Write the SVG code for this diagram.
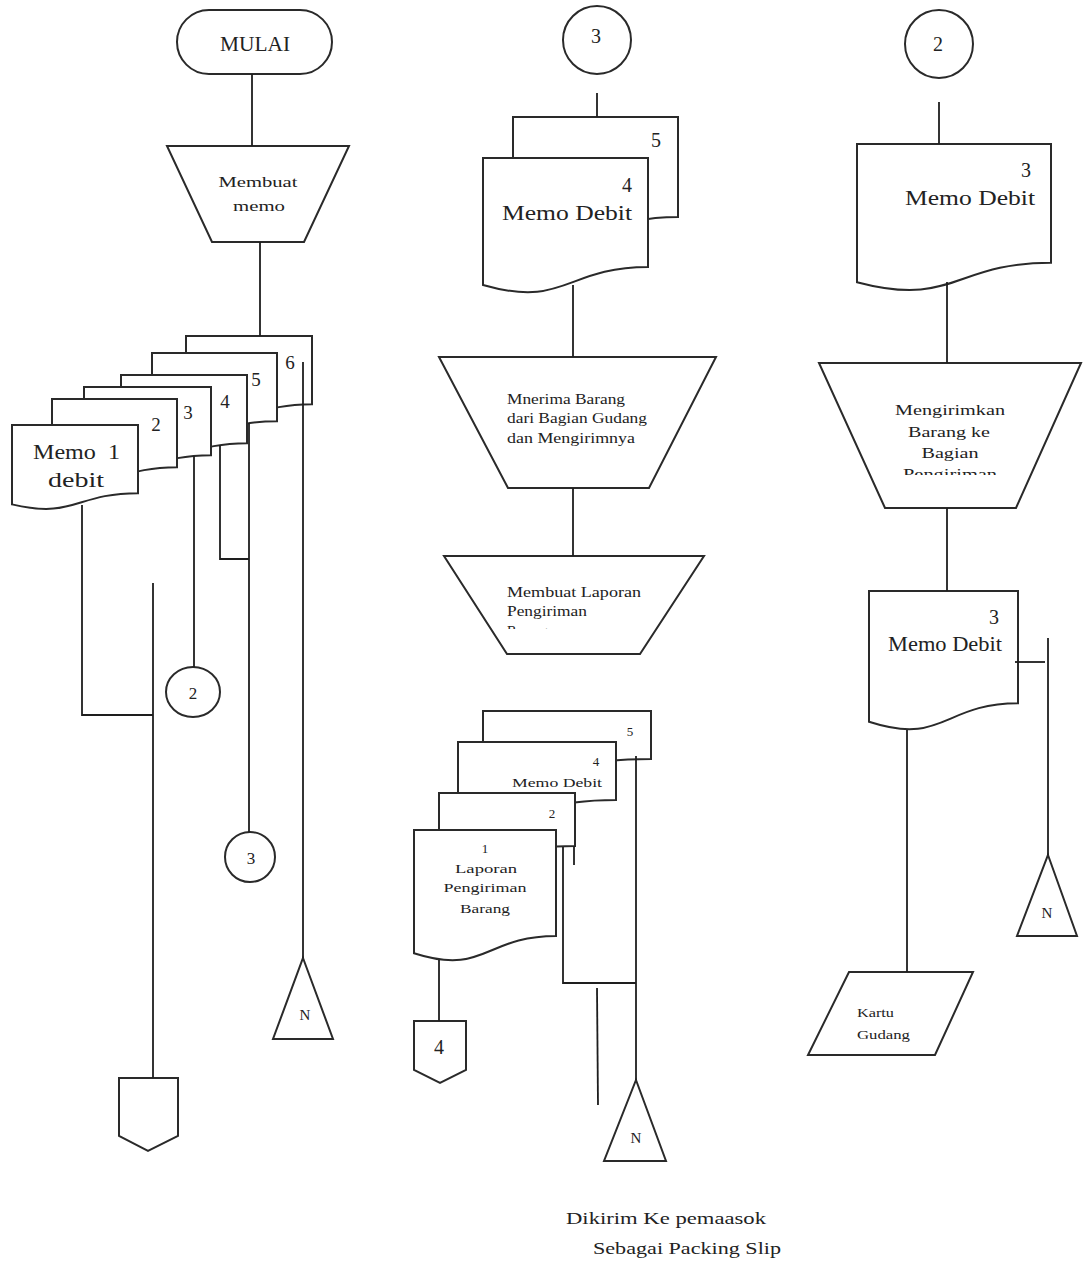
<svg xmlns="http://www.w3.org/2000/svg" width="1083" height="1268" viewBox="0 0 1083 1268">
<style>
.s{fill:#fff;stroke:#2a2a2a;stroke-width:2;stroke-linejoin:miter}
.c{fill:none;stroke:#1e1e1e;stroke-width:1.8}
text{font-family:"Liberation Serif","DejaVu Serif",serif;fill:#222}
.m{text-anchor:middle}
.e{text-anchor:end}
</style>
<defs>
<clipPath id="clipT3"><rect x="440" y="560" width="270" height="69"/></clipPath>
<clipPath id="clipT4"><rect x="820" y="365" width="260" height="110"/></clipPath>
</defs>
<rect width="1083" height="1268" fill="#fff"/>

<!-- LEFT COLUMN -->
<g id="mulai">
<rect class="s" x="177" y="10" width="155" height="64" rx="32" ry="32"/>
<text class="m" x="255" y="51" font-size="21" textLength="70" lengthAdjust="spacingAndGlyphs">MULAI</text>
</g>
<g id="membuat-memo">
<polygon class="s" points="167,146 349,146 304,242 212,242"/>
<text class="m" x="258" y="187" font-size="15" textLength="79" lengthAdjust="spacingAndGlyphs">Membuat</text>
<text class="m" x="259" y="211" font-size="15" textLength="52" lengthAdjust="spacingAndGlyphs">memo</text>
</g>
<g id="memo-stack-left">
<path class="s" d="M186,336 H312 V404.2 C249,404.2 249,430.1 186,415.4 Z"/>
<text class="m" x="290" y="369" font-size="19">6</text>
<path class="s" d="M152,353 H277 V421.2 C214.5,421.2 214.5,447.1 152,432.4 Z"/>
<text class="m" x="256" y="386" font-size="19">5</text>
<path class="s" d="M121,375 H247 V443.2 C184,443.2 184,469.1 121,454.4 Z"/>
<text class="m" x="225" y="408" font-size="19">4</text>
<path class="s" d="M84,387 H211 V455.2 C147.5,455.2 147.5,481.1 84,466.4 Z"/>
<text class="m" x="188" y="419" font-size="19">3</text>
<path class="s" d="M52,399 H177 V467.2 C114.5,467.2 114.5,493.1 52,478.4 Z"/>
<text class="m" x="156" y="431" font-size="19">2</text>
<path class="s" d="M12,425 H138 V493.2 C75,493.2 75,519.1 12,504.4 Z"/>
<text x="33" y="459" font-size="21" textLength="87" lengthAdjust="spacingAndGlyphs" xml:space="preserve">Memo  1</text>
<text x="48" y="487" font-size="21" textLength="56" lengthAdjust="spacingAndGlyphs">debit</text>
</g>
<g id="conn-2-left">
<ellipse class="s" cx="193" cy="692" rx="27" ry="25"/>
<text class="m" x="193" y="699" font-size="17">2</text>
</g>
<g id="conn-3-left">
<ellipse class="s" cx="250" cy="857" rx="25" ry="25"/>
<text class="m" x="251" y="864" font-size="17">3</text>
</g>
<g id="offpage-left">
<polygon class="s" points="119,1078 178,1078 178,1136 148,1151 119,1136"/>
</g>
<g id="n-left">
<polygon class="s" points="303,958 333,1039 273,1039"/>
<text class="m" x="305" y="1020" font-size="15">N</text>
</g>

<!-- MIDDLE COLUMN -->
<g id="conn-3-top">
<circle class="s" cx="597" cy="40" r="34"/>
<text class="m" x="596" y="43" font-size="20">3</text>
</g>
<g id="memo-debit-mid">
<path class="s" d="M513,117 H678 V217 C595.5,217 595.5,255 513,233.5 Z"/>
<text class="m" x="656" y="147" font-size="20">5</text>
<path class="s" d="M483,158 H648 V267.1 C565.5,267.1 565.5,308.6 483,285 Z"/>
<text class="e" x="632" y="192" font-size="20">4</text>
<text x="502" y="220" font-size="21" textLength="130" lengthAdjust="spacingAndGlyphs">Memo Debit</text>
</g>
<g id="menerima-barang">
<polygon class="s" points="439,357 716,357 649,488 508,488"/>
<text x="507" y="404" font-size="14" textLength="118" lengthAdjust="spacingAndGlyphs">Mnerima Barang</text>
<text x="507" y="423" font-size="14" textLength="140" lengthAdjust="spacingAndGlyphs">dari Bagian Gudang</text>
<text x="507" y="443" font-size="14" textLength="128" lengthAdjust="spacingAndGlyphs">dan Mengirimnya</text>
</g>
<g id="membuat-laporan">
<polygon class="s" points="444,556 704,556 640,654 507,654"/>
<text x="507" y="597" font-size="14" textLength="134" lengthAdjust="spacingAndGlyphs">Membuat Laporan</text>
<text x="507" y="616" font-size="14" textLength="80" lengthAdjust="spacingAndGlyphs">Pengiriman</text>
<text x="507" y="636" font-size="14" clip-path="url(#clipT3)">Barang</text>
</g>
<g id="laporan-stack">
<path class="s" d="M483,711 H651 V759 C567,759 567,777.3 483,767 Z"/>
<text class="m" x="630" y="736" font-size="13">5</text>
<path class="s" d="M458,742 H616 V800 C537,800 537,822 458,809.5 Z"/>
<text class="m" x="596" y="766" font-size="13">4</text>
<text class="e" x="602" y="787" font-size="13" textLength="90" lengthAdjust="spacingAndGlyphs">Memo Debit</text>
<path class="s" d="M439,793 H575 V846 C507,846 507,866.2 439,854.7 Z"/>
<text class="m" x="552" y="818" font-size="13">2</text>
<path class="s" d="M414,830 H556 V935.9 C485,935.9 485,976.1 414,953.3 Z"/>
<text class="m" x="485" y="853" font-size="13">1</text>
<text class="m" x="486" y="873" font-size="13" textLength="62" lengthAdjust="spacingAndGlyphs">Laporan</text>
<text class="m" x="485" y="892" font-size="13" textLength="83" lengthAdjust="spacingAndGlyphs">Pengiriman</text>
<text class="m" x="485" y="913" font-size="13" textLength="50" lengthAdjust="spacingAndGlyphs">Barang</text>
</g>
<g id="offpage-4">
<polygon class="s" points="414,1021 466,1021 466,1070 440,1083 414,1070"/>
<text class="m" x="439" y="1054" font-size="20">4</text>
</g>
<g id="n-mid">
<polygon class="s" points="636,1080 666,1161 604,1161"/>
<text class="m" x="636" y="1143" font-size="15">N</text>
</g>
<g id="note">
<text x="566" y="1224" font-size="17" textLength="200" lengthAdjust="spacingAndGlyphs">Dikirim Ke pemaasok</text>
<text x="593" y="1254" font-size="17" textLength="188" lengthAdjust="spacingAndGlyphs">Sebagai Packing Slip</text>
</g>

<!-- RIGHT COLUMN -->
<g id="conn-2-top">
<circle class="s" cx="939" cy="44" r="34"/>
<text class="m" x="938" y="51" font-size="20">2</text>
</g>
<g id="memo-debit-right">
<path class="s" d="M857,144 H1051 V262.7 C954,262.7 954,307.8 857,282.2 Z"/>
<text class="e" x="1031" y="177" font-size="20">3</text>
<text x="905" y="205" font-size="21" textLength="130" lengthAdjust="spacingAndGlyphs">Memo Debit</text>
</g>
<g id="mengirimkan-barang">
<polygon class="s" points="819,363 1081,363 1016,508 885,508"/>
<text class="m" x="950" y="415" font-size="14" textLength="110" lengthAdjust="spacingAndGlyphs">Mengirimkan</text>
<text class="m" x="949" y="437" font-size="14" textLength="82" lengthAdjust="spacingAndGlyphs">Barang ke</text>
<text class="m" x="950" y="458" font-size="14" textLength="57" lengthAdjust="spacingAndGlyphs">Bagian</text>
<text class="m" x="950" y="479" font-size="14" textLength="94" lengthAdjust="spacingAndGlyphs" clip-path="url(#clipT4)">Pengiriman</text>
</g>
<g id="memo-debit-right-2">
<path class="s" d="M869,591 H1018 V703.3 C943.5,703.3 943.5,746 869,721.8 Z"/>
<text class="e" x="999" y="624" font-size="20">3</text>
<text x="888" y="651" font-size="20" textLength="114" lengthAdjust="spacingAndGlyphs">Memo Debit</text>
</g>
<g id="n-right">
<polygon class="s" points="1048,855 1077,936 1017,936"/>
<text class="m" x="1047" y="918" font-size="15">N</text>
</g>
<g id="kartu-gudang">
<polygon class="s" points="849,972 973,972 935,1055 808,1055"/>
<text x="857" y="1017" font-size="12" textLength="37" lengthAdjust="spacingAndGlyphs">Kartu</text>
<text x="857" y="1039" font-size="12" textLength="53" lengthAdjust="spacingAndGlyphs">Gudang</text>
</g>

<!-- CONNECTORS -->
<g id="connectors">
<path class="c" d="M252,74 V146"/>
<path class="c" d="M260,242 V336"/>
<path class="c" d="M82,505 V715 H153"/>
<path class="c" d="M153,583 V1078"/>
<path class="c" d="M194,456 V667"/>
<path class="c" d="M220,445 V559 H249"/>
<path class="c" d="M249,423 V832"/>
<path class="c" d="M303,362 V958"/>
<path class="c" d="M597,93 V117"/>
<path class="c" d="M573,285 V357"/>
<path class="c" d="M573,488 V556"/>
<path class="c" d="M563,847 V983 H636"/>
<path class="c" d="M574,846 V865"/>
<path class="c" d="M636,756 V1080"/>
<path class="c" d="M597,988 L598,1105"/>
<path class="c" d="M439,960 V1021"/>
<path class="c" d="M939,102 V144"/>
<path class="c" d="M947,282 V363"/>
<path class="c" d="M947,508 V591"/>
<path class="c" d="M1015,662 H1045"/>
<path class="c" d="M1048,638 V855"/>
<path class="c" d="M907,730 V972"/>
</g>
</svg>
